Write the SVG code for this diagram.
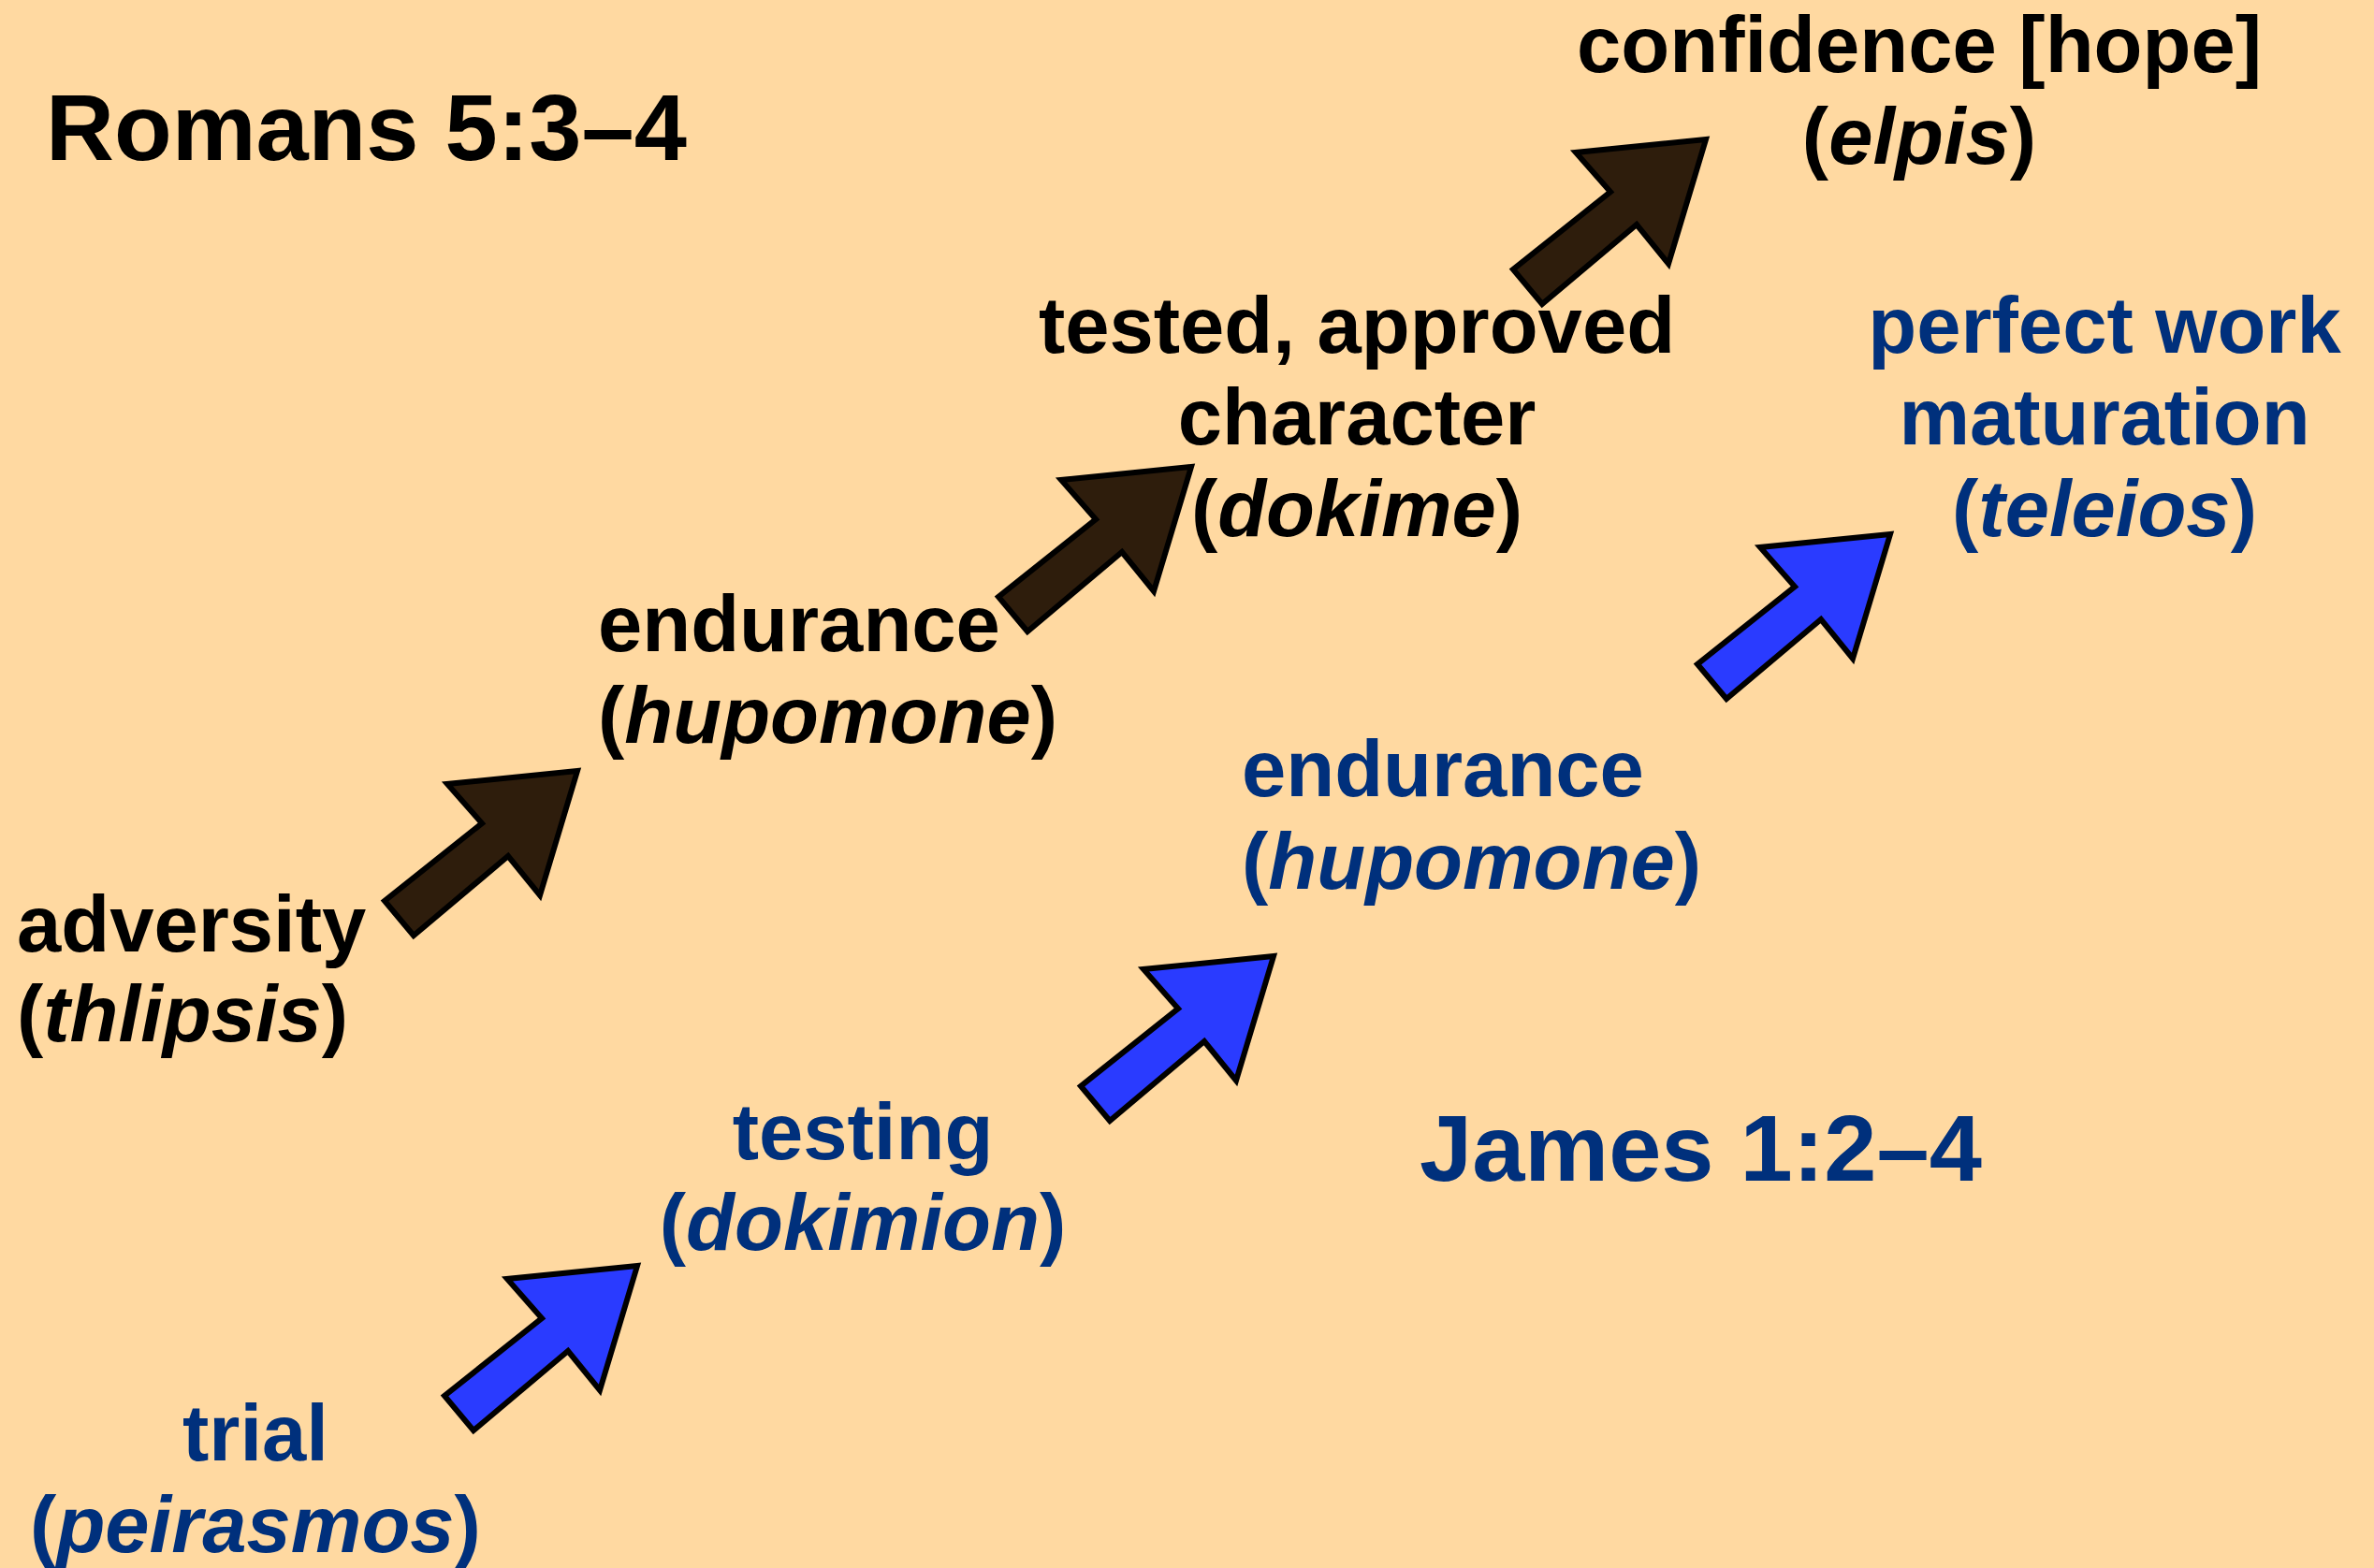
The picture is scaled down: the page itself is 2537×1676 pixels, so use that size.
<svg xmlns="http://www.w3.org/2000/svg" xmlns:xlink="http://www.w3.org/1999/xlink" width="2537" height="1676" viewBox="0 0 2537 1676">
<style>
text{font-family:"Liberation Sans",Arial,Helvetica,sans-serif;font-weight:bold;font-size:85px}
.k{fill:#000000}
.b{fill:#00307C}
.t{font-size:101px}
.c{text-anchor:middle}
.i{font-style:italic}
.brown{fill:#2E1D0C;stroke:#000;stroke-width:6;stroke-linejoin:miter}
.blue{fill:#2A3BFF;stroke:#000;stroke-width:6;stroke-linejoin:miter}
</style>
<defs>
<path id="arr" d="M-2,2 L-141,16 L-104,58 L-208,141 L-177,178 L-76,93 L-42,135 Z"/>
</defs>
<rect width="2537" height="1676" fill="#FFD9A1"/>
<g id="connectors">
<use xlink:href="#arr" class="brown" transform="translate(619,822)"/>
<use xlink:href="#arr" class="brown" transform="translate(1275,497)"/>
<use xlink:href="#arr" class="brown" transform="translate(1825,147)"/>
<use xlink:href="#arr" class="blue" transform="translate(683,1351)"/>
<use xlink:href="#arr" class="blue" transform="translate(1363,1020)"/>
<use xlink:href="#arr" class="blue" transform="translate(2022,569)"/>
</g>
<g id="title-romans"><text class="k t" x="49" y="171">Romans 5:3–4</text></g>
<g id="title-james"><text class="b t" x="1517" y="1262">James 1:2–4</text></g>
<g id="adversity">
<text class="k" x="18" y="1017">adversity</text>
<text class="k" x="18" y="1113">(<tspan class="i">thlipsis</tspan>)</text>
</g>
<g id="endurance-r">
<text class="k" x="639" y="696">endurance</text>
<text class="k" x="639" y="794">(<tspan class="i">hupomone</tspan>)</text>
</g>
<g id="dokime">
<text class="k c" x="1450" y="377">tested, approved</text>
<text class="k c" x="1450" y="475">character</text>
<text class="k c" x="1450" y="573">(<tspan class="i">dokime</tspan>)</text>
</g>
<g id="elpis">
<text class="k c" x="2051" y="77">confidence [hope]</text>
<text class="k c" x="2051" y="175">(<tspan class="i">elpis</tspan>)</text>
</g>
<g id="trial">
<text class="b c" x="273" y="1561">trial</text>
<text class="b c" x="273" y="1659">(<tspan class="i">peirasmos</tspan>)</text>
</g>
<g id="testing">
<text class="b c" x="922" y="1239">testing</text>
<text class="b c" x="922" y="1336">(<tspan class="i">dokimion</tspan>)</text>
</g>
<g id="endurance-j">
<text class="b" x="1327" y="851">endurance</text>
<text class="b" x="1327" y="950">(<tspan class="i">hupomone</tspan>)</text>
</g>
<g id="teleios">
<text class="b c" x="2249" y="377">perfect work</text>
<text class="b c" x="2249" y="475">maturation</text>
<text class="b c" x="2249" y="573">(<tspan class="i">teleios</tspan>)</text>
</g>
</svg>
